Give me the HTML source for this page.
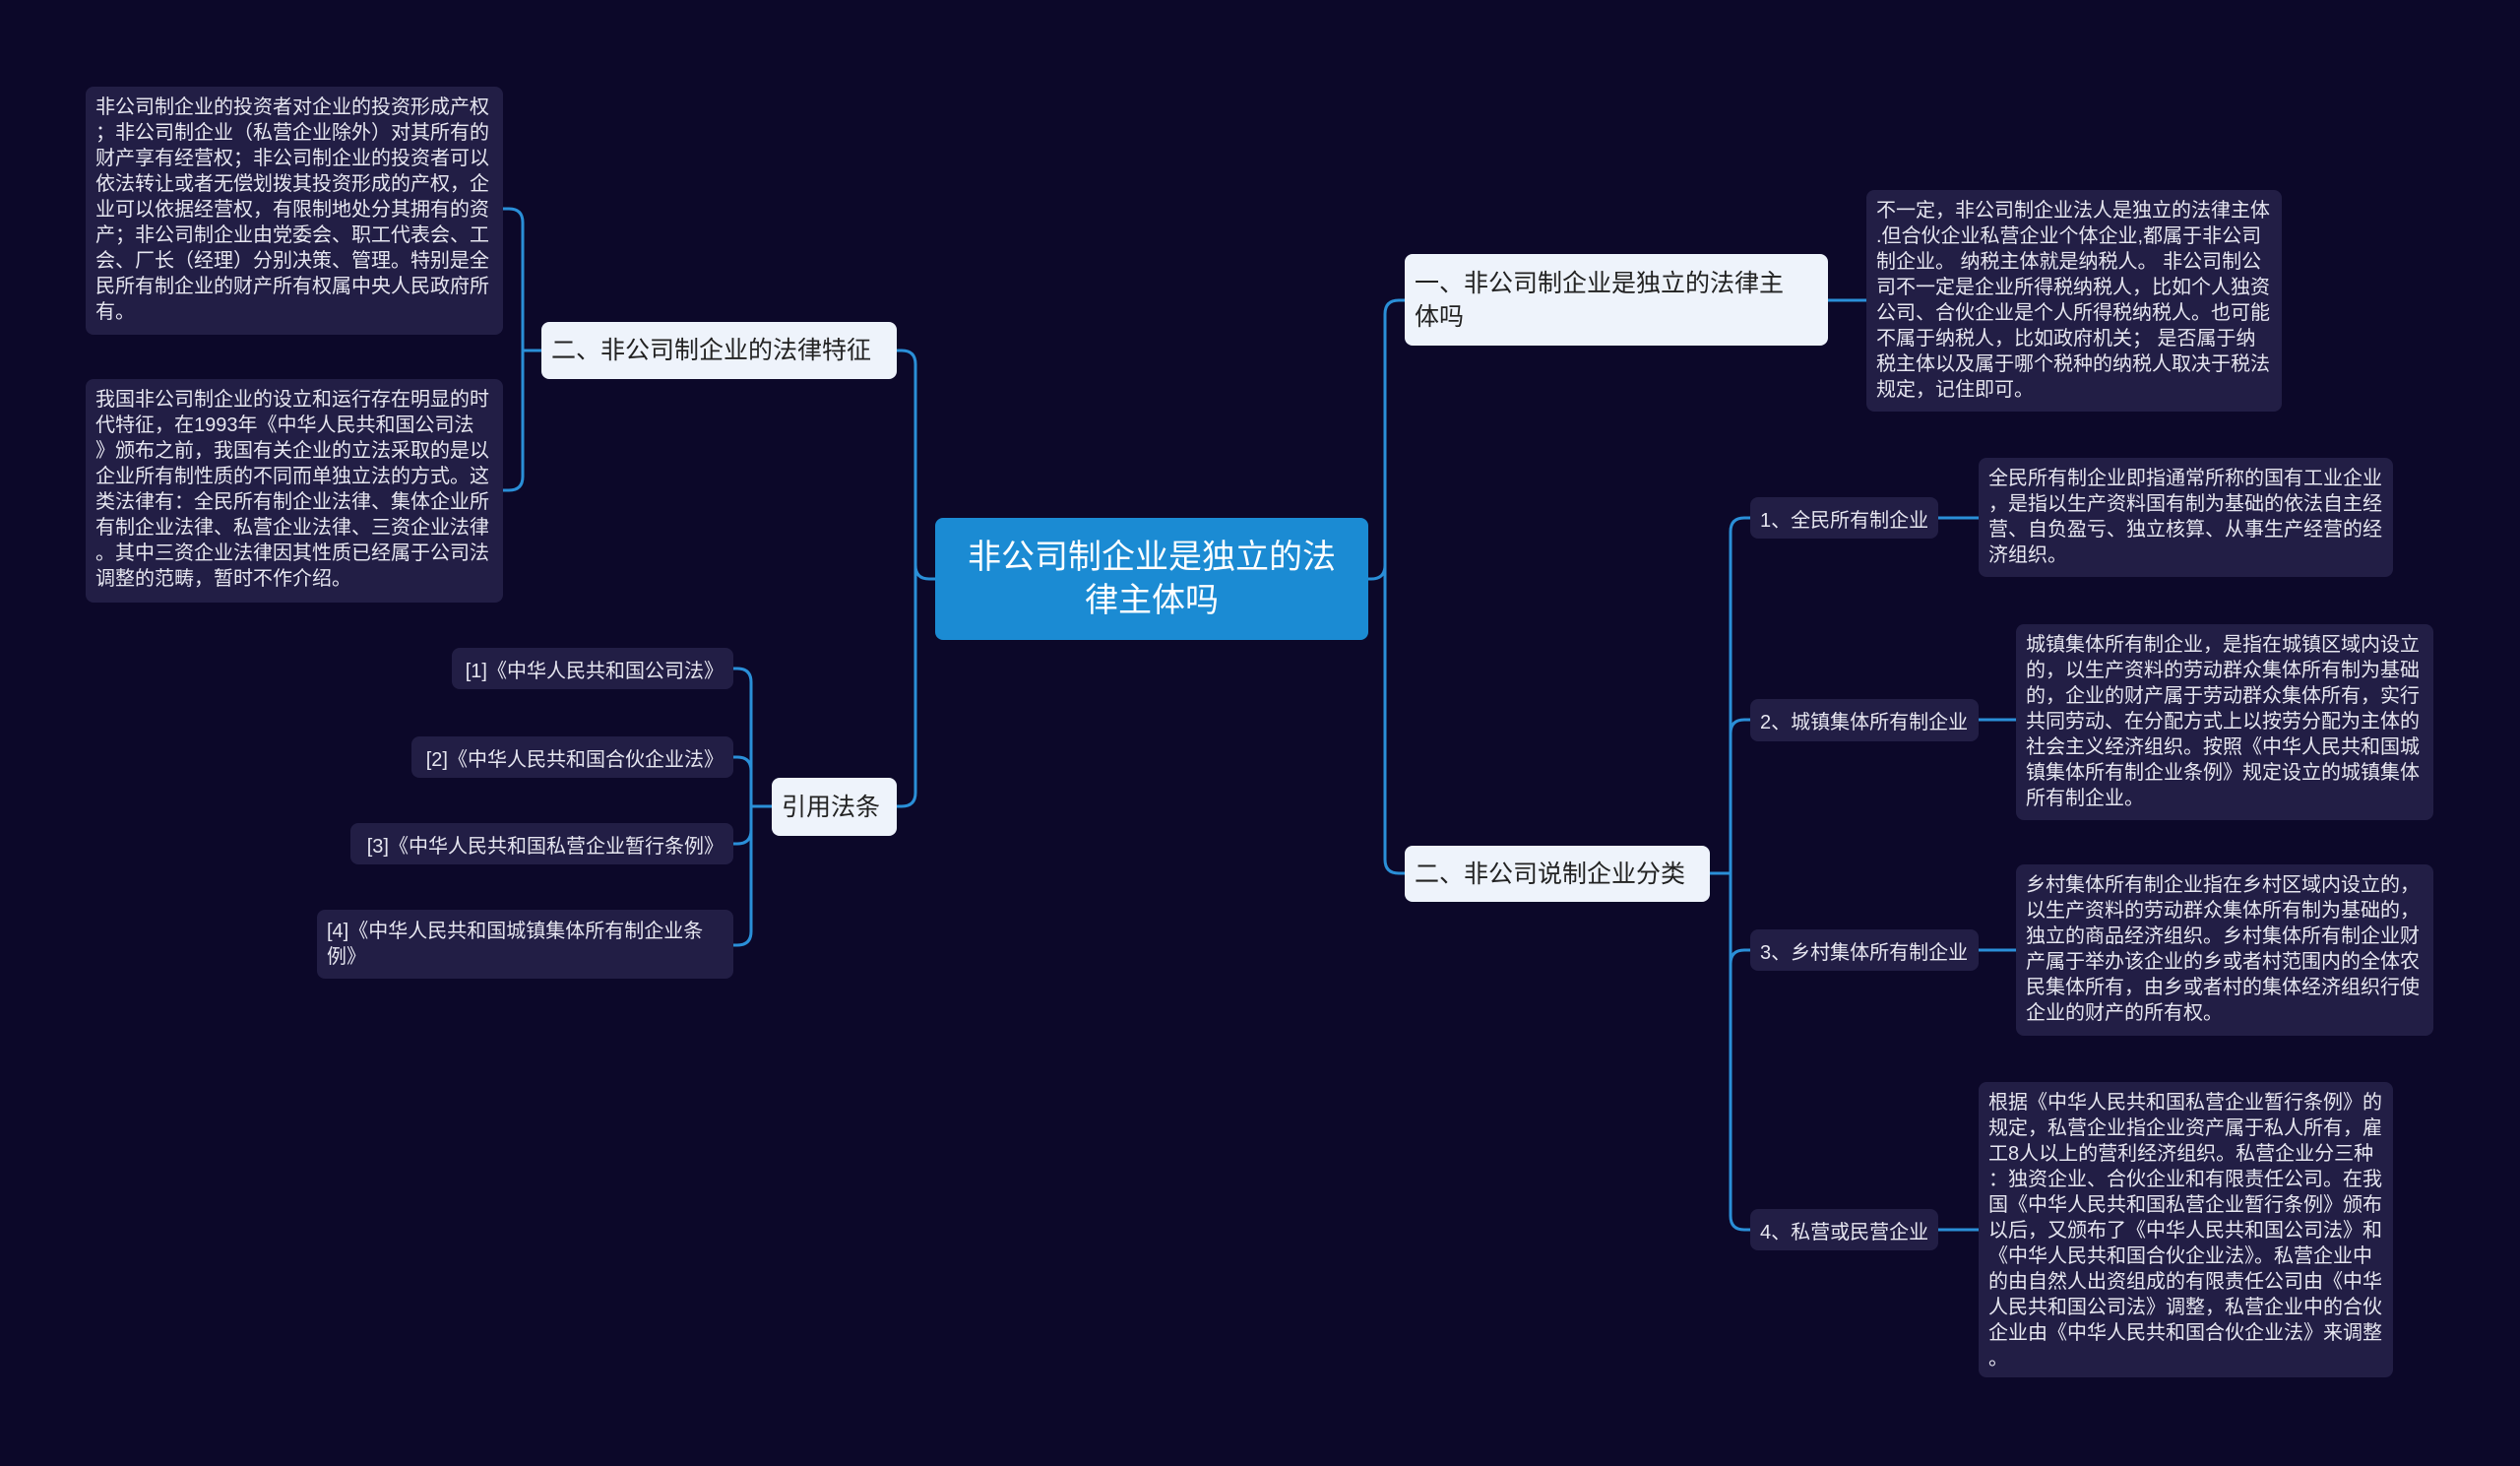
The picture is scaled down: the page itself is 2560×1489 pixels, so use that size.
<!DOCTYPE html>
<html><head><meta charset="utf-8"><style>
body{margin:0;width:2560px;height:1489px;background:#0c0829;position:relative;overflow:hidden;font-family:"Liberation Sans","Noto Sans CJK SC",sans-serif}
.b{position:absolute;box-sizing:border-box}
.t{background:#221e45;border-radius:8px;color:#e6e6f0;font-size:20px;line-height:26px;padding:8px 10px;white-space:nowrap}
.w{background:#eef3fb;border-radius:8px;color:#222;font-size:25px;line-height:34px;padding:0 10px;display:flex;align-items:center;white-space:nowrap}
.s{background:#221e45;border-radius:8px;color:#e6e6f0;font-size:20px;display:flex;align-items:center;padding:0 10px;white-space:nowrap}
.r{justify-content:flex-end}
svg{position:absolute;left:0;top:0}
</style></head><body>
<svg width="2560" height="1489" fill="none" stroke="#2a8fd8" stroke-width="3">
<path d="M950 588 H944 Q930 588 930 574 V370 Q930 356 916 356 H911"/>
<path d="M930 574 V805 Q930 819 916 819 H911"/>
<path d="M1390 588 H1393 Q1407 588 1407 574 V319 Q1407 305 1421 305 H1427"/>
<path d="M1407 574 V873 Q1407 887 1421 887 H1427"/>
<path d="M550 356 H531 M531 356 V226 Q531 212 517 212 H511 M531 356 V484 Q531 498 517 498 H511"/>
<path d="M784 819 H763 M763 693 Q763 679 749 679 H745 M763 693 V946 Q763 960 749 960 H745 M763 783 Q763 769 749 769 H745 M763 843 Q763 857 749 857 H745"/>
<path d="M1737 887 H1758 M1758 540 Q1758 526 1772 526 H1778 M1758 540 V1235 Q1758 1249 1772 1249 H1778 M1758 745 Q1758 731 1772 731 H1778 M1758 979 Q1758 965 1772 965 H1778"/>
<path d="M1969 526 H2010 M2010 731 H2048 M2010 965 H2048 M1969 1249 H2010 M1857 305 H1896"/>
</svg>

<div class="b" style="left:950px;top:526px;width:440px;height:124px;background:#1b8bd3;border-radius:8px;color:#fff;font-size:34px;line-height:44px;text-align:center;display:flex;align-items:center;justify-content:center">非公司制企业是独立的法<br>律主体吗</div>

<div class="b w" style="left:550px;top:327px;width:361px;height:58px">二、非公司制企业的法律特征</div>
<div class="b w" style="left:784px;top:790px;width:127px;height:59px">引用法条</div>
<div class="b w" style="left:1427px;top:258px;width:430px;height:93px;white-space:normal">一、非公司制企业是独立的法律主<br>体吗</div>
<div class="b w" style="left:1427px;top:859px;width:310px;height:57px">二、非公司说制企业分类</div>

<div class="b t" style="left:87px;top:88px;width:424px;height:252px">非公司制企业的投资者对企业的投资形成产权<br>；非公司制企业（私营企业除外）对其所有的<br>财产享有经营权；非公司制企业的投资者可以<br>依法转让或者无偿划拨其投资形成的产权，企<br>业可以依据经营权，有限制地处分其拥有的资<br>产；非公司制企业由党委会、职工代表会、工<br>会、厂长（经理）分别决策、管理。特别是全<br>民所有制企业的财产所有权属中央人民政府所<br>有。</div>
<div class="b t" style="left:87px;top:385px;width:424px;height:227px">我国非公司制企业的设立和运行存在明显的时<br>代特征，在1993年《中华人民共和国公司法<br>》颁布之前，我国有关企业的立法采取的是以<br>企业所有制性质的不同而单独立法的方式。这<br>类法律有：全民所有制企业法律、集体企业所<br>有制企业法律、私营企业法律、三资企业法律<br>。其中三资企业法律因其性质已经属于公司法<br>调整的范畴，暂时不作介绍。</div>

<div class="b s r" style="left:459px;top:658px;width:286px;height:42px">[1]《中华人民共和国公司法》</div>
<div class="b s r" style="left:418px;top:748px;width:327px;height:42px">[2]《中华人民共和国合伙企业法》</div>
<div class="b s r" style="left:356px;top:836px;width:389px;height:42px">[3]《中华人民共和国私营企业暂行条例》</div>
<div class="b s" style="left:322px;top:924px;width:423px;height:70px;line-height:26px">[4]《中华人民共和国城镇集体所有制企业条<br>例》</div>

<div class="b t" style="left:1896px;top:193px;width:422px;height:225px">不一定，非公司制企业法人是独立的法律主体<br>.但合伙企业私营企业个体企业,都属于非公司<br>制企业。 纳税主体就是纳税人。 非公司制公<br>司不一定是企业所得税纳税人，比如个人独资<br>公司、合伙企业是个人所得税纳税人。也可能<br>不属于纳税人，比如政府机关； 是否属于纳<br>税主体以及属于哪个税种的纳税人取决于税法<br>规定，记住即可。</div>

<div class="b s" style="left:1778px;top:505px;width:191px;height:42px">1、全民所有制企业</div>
<div class="b s" style="left:1778px;top:710px;width:232px;height:43px">2、城镇集体所有制企业</div>
<div class="b s" style="left:1778px;top:944px;width:232px;height:42px">3、乡村集体所有制企业</div>
<div class="b s" style="left:1778px;top:1228px;width:191px;height:42px">4、私营或民营企业</div>

<div class="b t" style="left:2010px;top:465px;width:421px;height:121px">全民所有制企业即指通常所称的国有工业企业<br>，是指以生产资料国有制为基础的依法自主经<br>营、自负盈亏、独立核算、从事生产经营的经<br>济组织。</div>
<div class="b t" style="left:2048px;top:634px;width:424px;height:199px">城镇集体所有制企业，是指在城镇区域内设立<br>的，以生产资料的劳动群众集体所有制为基础<br>的，企业的财产属于劳动群众集体所有，实行<br>共同劳动、在分配方式上以按劳分配为主体的<br>社会主义经济组织。按照《中华人民共和国城<br>镇集体所有制企业条例》规定设立的城镇集体<br>所有制企业。</div>
<div class="b t" style="left:2048px;top:878px;width:424px;height:174px">乡村集体所有制企业指在乡村区域内设立的，<br>以生产资料的劳动群众集体所有制为基础的，<br>独立的商品经济组织。乡村集体所有制企业财<br>产属于举办该企业的乡或者村范围内的全体农<br>民集体所有，由乡或者村的集体经济组织行使<br>企业的财产的所有权。</div>
<div class="b t" style="left:2010px;top:1099px;width:421px;height:300px">根据《中华人民共和国私营企业暂行条例》的<br>规定，私营企业指企业资产属于私人所有，雇<br>工8人以上的营利经济组织。私营企业分三种<br>：独资企业、合伙企业和有限责任公司。在我<br>国《中华人民共和国私营企业暂行条例》颁布<br>以后，又颁布了《中华人民共和国公司法》和<br>《中华人民共和国合伙企业法》。私营企业中<br>的由自然人出资组成的有限责任公司由《中华<br>人民共和国公司法》调整，私营企业中的合伙<br>企业由《中华人民共和国合伙企业法》来调整<br>。</div>
</body></html>
